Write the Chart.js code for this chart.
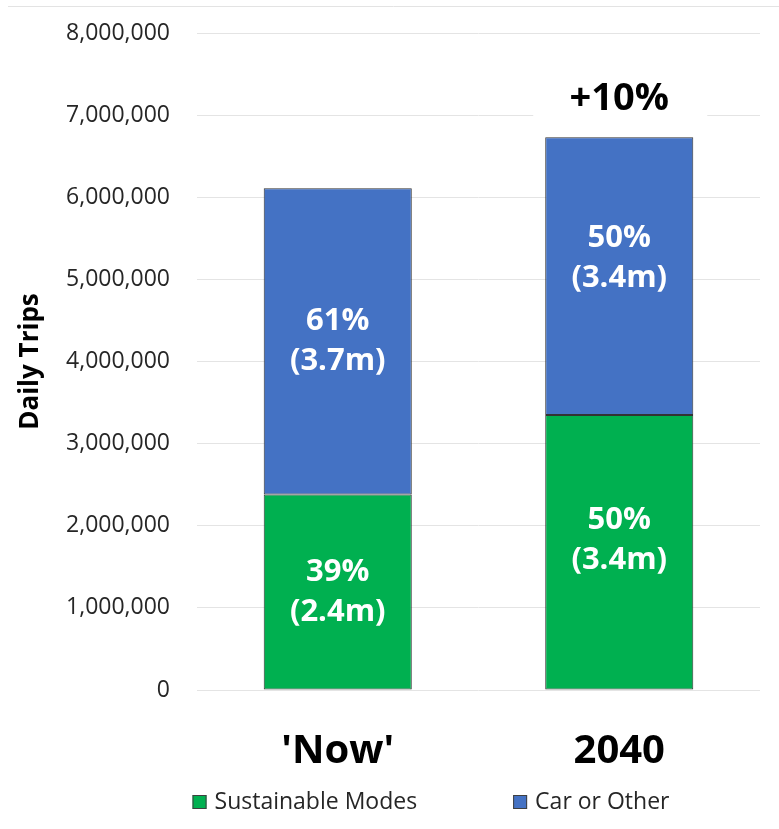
<!DOCTYPE html>
<html>
<head>
<meta charset="utf-8">
<script src="https://cdn.jsdelivr.net/npm/chart.js@4.4.1/dist/chart.umd.min.js"></script>
<style>
  html, body { margin: 0; padding: 0; background: #fff; }
  #wrap { width: 779px; height: 829px; }
</style>
</head>
<body>
<div id="wrap"><canvas id="chart" width="779" height="829"></canvas></div>
<script>
// Daily trips by mode, now vs 2040
const categories = ["'Now'", '2040'];
const seriesNames = ['Sustainable Modes', 'Car or Other'];
const sustainable = [2380000, 3350000];
const carOther = [3730000, 3380000];
const pctLabels = [['39%', '50%'], ['61%', '50%']];
const millionLabels = [['(2.4m)', '(3.4m)'], ['(3.7m)', '(3.4m)']];
const growthLabel = '+10%';
const yTicks = [0, 1000000, 2000000, 3000000, 4000000, 5000000, 6000000, 7000000, 8000000];

const GREEN = '#00b050';
const BLUE = '#4472c4';
const FONT = "'Open Sans', 'DejaVu Sans', sans-serif";

// white text in the middle of each stacked segment
const segmentLabels = {
  id: 'segmentLabels',
  afterDatasetsDraw(chart, args, opts) {
    const ctx = chart.ctx;
    ctx.save();
    ctx.fillStyle = '#ffffff';
    ctx.font = 'bold 31px ' + FONT;
    ctx.textAlign = 'center';
    ctx.textBaseline = 'middle';
    chart.data.datasets.forEach((ds, i) => {
      chart.getDatasetMeta(i).data.forEach((bar, j) => {
        const mid = (bar.y + bar.base) / 2 + opts.shift[i][j];
        ctx.fillText(pctLabels[i][j], bar.x, mid - 20);
        ctx.fillText(millionLabels[i][j], bar.x, mid + 20);
      });
    });
    ctx.restore();
  }
};

// growth note above the 2040 bar, plus top frame line and legend
const extras = {
  id: 'extras',
  beforeDraw(chart) {
    const ctx = chart.ctx;
    ctx.save();
    ctx.strokeStyle = '#e3e3e3';
    ctx.lineWidth = 1;
    ctx.beginPath();
    ctx.moveTo(8, 6.5);
    ctx.lineTo(779, 6.5);
    ctx.stroke();
    ctx.restore();
  },
  afterDatasetsDraw(chart) {
    const ctx = chart.ctx;
    const top = chart.getDatasetMeta(1).data[1];
    ctx.save();
    ctx.fillStyle = '#ffffff';
    ctx.fillRect(top.x - 86, top.y - 62, 174, 48);
    ctx.fillStyle = '#000000';
    ctx.font = 'bold 38px ' + FONT;
    ctx.textAlign = 'center';
    ctx.textBaseline = 'middle';
    ctx.fillText(growthLabel, top.x, top.y - 38);

    // legend
    ctx.font = '23px ' + FONT;
    ctx.textBaseline = 'middle';
    ctx.textAlign = 'left';
    const box = 14, gap = 8, spacing = 96, cy = 802;
    const widths = chart.data.datasets.map(d => box + gap + ctx.measureText(d.label).width);
    const total = widths.reduce((a, b) => a + b, 0) + spacing * (widths.length - 1);
    let x = 431 - total / 2;
    chart.data.datasets.forEach((d, i) => {
      ctx.fillStyle = d.backgroundColor;
      ctx.fillRect(x, cy - box / 2, box, box);
      ctx.strokeStyle = '#3f3f3f';
      ctx.lineWidth = 1;
      ctx.strokeRect(x + 0.5, cy - box / 2 + 0.5, box - 1, box - 1);
      ctx.fillStyle = '#262626';
      ctx.fillText(d.label, x + box + gap, cy);
      x += widths[i] + spacing;
    });
    ctx.restore();
  }
};

new Chart(document.getElementById('chart'), {
  type: 'bar',
  data: {
    labels: categories,
    datasets: [
      { label: seriesNames[0], data: sustainable, backgroundColor: GREEN },
      { label: seriesNames[1], data: carOther, backgroundColor: BLUE }
    ]
  },
  options: {
    responsive: false,
    animation: false,
    devicePixelRatio: 1,
    layout: { padding: { top: 33, right: 19, bottom: 0, left: 0 } },
    datasets: {
      bar: {
        categoryPercentage: 1,
        barPercentage: 0.526,
        borderColor: '#333333',
        borderWidth: 1,
        borderSkipped: false
      }
    },
    plugins: {
      legend: { display: false },
      tooltip: { enabled: false },
      segmentLabels: { shift: [[0, -12], [0, -18]] }
    },
    scales: {
      x: {
        stacked: true,
        grid: { display: false },
        border: { display: false },
        ticks: { color: '#000', font: { family: FONT, size: 40, weight: 'bold' }, padding: 30 },
        afterFit: s => { s.height = 139; s.paddingLeft = 0; s.paddingRight = 0; }
      },
      y: {
        stacked: true,
        min: 0,
        max: 8000000,
        afterBuildTicks: s => { s.ticks = yTicks.map(v => ({ value: v })); },
        grid: { color: '#e4e4e4', drawTicks: false },
        border: { display: false },
        ticks: {
          color: '#262626',
          font: { family: FONT, size: 23 },
          padding: 27,
          callback: v => Number(v).toLocaleString('en-US')
        },
        title: {
          display: true,
          text: 'Daily Trips',
          color: '#000',
          font: { family: FONT, size: 26, weight: 'bold' },
          padding: { top: 15, bottom: 0 }
        },
        afterFit: s => { s.width = 197; s.paddingTop = 0; s.paddingBottom = 0; }
      }
    }
  },
  plugins: [segmentLabels, extras]
});
</script>
</body>
</html>
